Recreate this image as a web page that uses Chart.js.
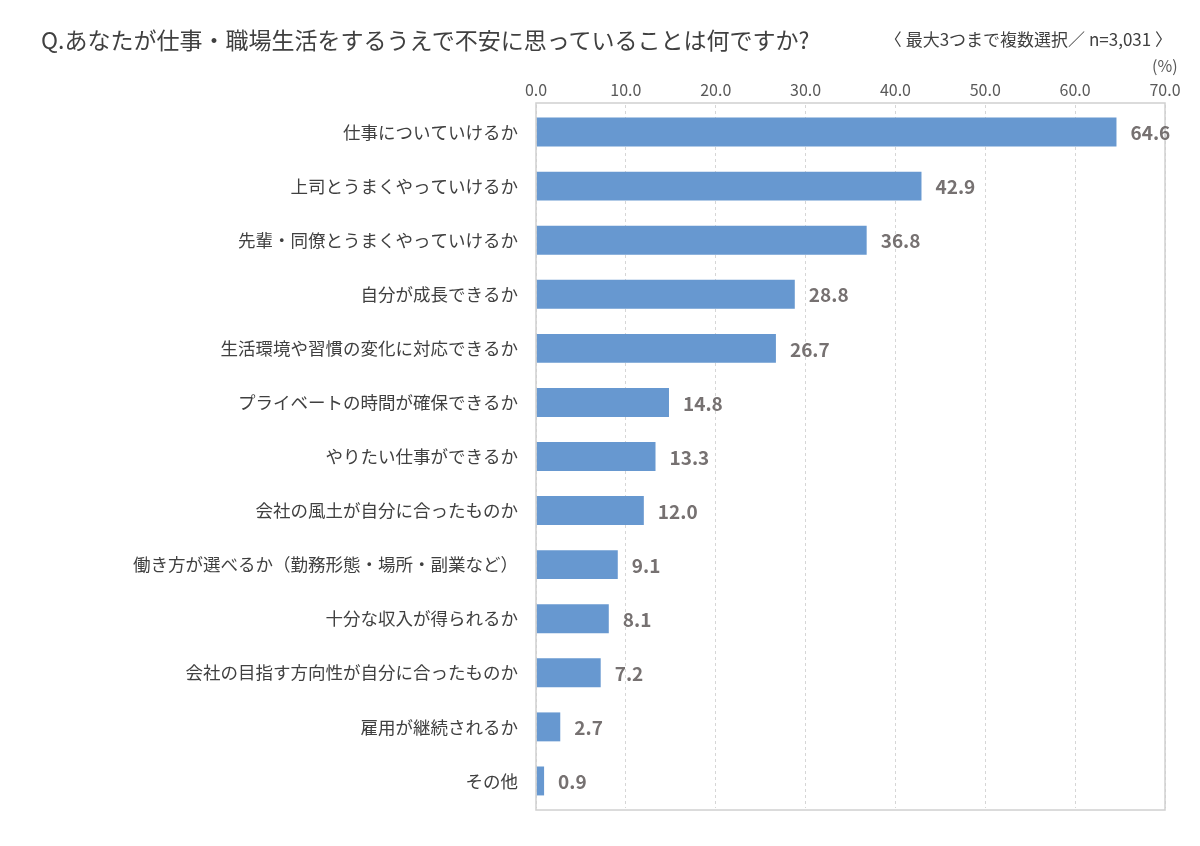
<!DOCTYPE html>
<html lang="ja">
<head>
<meta charset="utf-8">
<script src="https://cdn.jsdelivr.net/npm/chart.js@4"></script>
<style>
  html, body { margin: 0; padding: 0; background: #ffffff; }
  #wrap { position: relative; width: 1200px; height: 846px; }
  #title { position: absolute; left: 41px; top: 22px; font: 23px "Noto Sans CJK JP", sans-serif; color: #404040; white-space: nowrap; }
  #sub { position: absolute; right: 28px; top: 26px; font: 17px "Noto Sans CJK JP", sans-serif; color: #404040; white-space: nowrap; }
  #unit { position: absolute; left: 1152px; top: 53px; font: 16px "Noto Sans CJK JP", sans-serif; color: #595959; }
  canvas { position: absolute; left: 0; top: 0; }
</style>
</head>
<body>
<div id="wrap">
  <canvas id="c" width="1200" height="846"></canvas>
  <div id="title">Q.あなたが仕事・職場生活をするうえで不安に思っていることは何ですか?</div>
  <div id="sub">〈 最大3つまで複数選択／ n=3,031 〉</div>
  <div id="unit">(%)</div>
</div>
<script>
const categories = [
  "仕事についていけるか",
  "上司とうまくやっていけるか",
  "先輩・同僚とうまくやっていけるか",
  "自分が成長できるか",
  "生活環境や習慣の変化に対応できるか",
  "プライベートの時間が確保できるか",
  "やりたい仕事ができるか",
  "会社の風土が自分に合ったものか",
  "働き方が選べるか（勤務形態・場所・副業など）",
  "十分な収入が得られるか",
  "会社の目指す方向性が自分に合ったものか",
  "雇用が継続されるか",
  "その他"
];
const values = [64.6, 42.9, 36.8, 28.8, 26.7, 14.8, 13.3, 12.0, 9.1, 8.1, 7.2, 2.7, 0.9];
const tickValues = [0, 10, 20, 30, 40, 50, 60, 70];

const frameAndLabels = {
  id: 'frameAndLabels',
  afterDatasetsDraw(chart) {
    const ctx = chart.ctx;
    const a = chart.chartArea;
    ctx.save();
    ctx.strokeStyle = '#d0d0d0';
    ctx.lineWidth = 1.5;
    ctx.strokeRect(a.left, a.top - 2, a.right - a.left, a.bottom - a.top + 4);
    const meta = chart.getDatasetMeta(0);
    ctx.fillStyle = '#767171';
    ctx.font = 'bold 19px "Noto Sans CJK JP", sans-serif';
    ctx.textAlign = 'left';
    ctx.textBaseline = 'middle';
    meta.data.forEach((bar, i) => {
      ctx.fillText(values[i].toFixed(1), bar.x + 14, bar.y + 1);
    });
    ctx.restore();
  }
};

new Chart(document.getElementById('c'), {
  type: 'bar',
  data: {
    labels: categories,
    datasets: [{
      data: values,
      backgroundColor: '#6798d0',
      borderWidth: 0,
      categoryPercentage: 1.0,
      barPercentage: 0.535
    }]
  },
  options: {
    indexAxis: 'y',
    responsive: false,
    animation: false,
    layout: { padding: { left: 0, right: 35, top: 0, bottom: 38 } },
    plugins: { legend: { display: false }, tooltip: { enabled: false }, title: { display: false } },
    scales: {
      x: {
        position: 'top',
        min: 0, max: 70,
        afterBuildTicks(scale) { scale.ticks = tickValues.map(v => ({ value: v })); },
        afterFit(scale) { scale.height = 105; },
        grid: { color: '#d6d6d6', lineWidth: 1, drawTicks: false },
        border: { display: false, dash: [3, 3] },
        ticks: {
          padding: 5,
          color: '#595959',
          font: { family: '"Noto Sans CJK JP", sans-serif', size: 16 },
          callback: (v) => Number(v).toFixed(1),
          maxRotation: 0
        }
      },
      y: {
        afterFit(scale) { scale.width = 536; },
        border: { display: false },
        grid: { display: false, drawTicks: false },
        ticks: {
          padding: 18,
          color: '#404040',
          font: { family: '"Noto Sans CJK JP", sans-serif', size: 17.5 },
          autoSkip: false
        }
      }
    }
  },
  plugins: [frameAndLabels]
});
</script>
</body>
</html>
